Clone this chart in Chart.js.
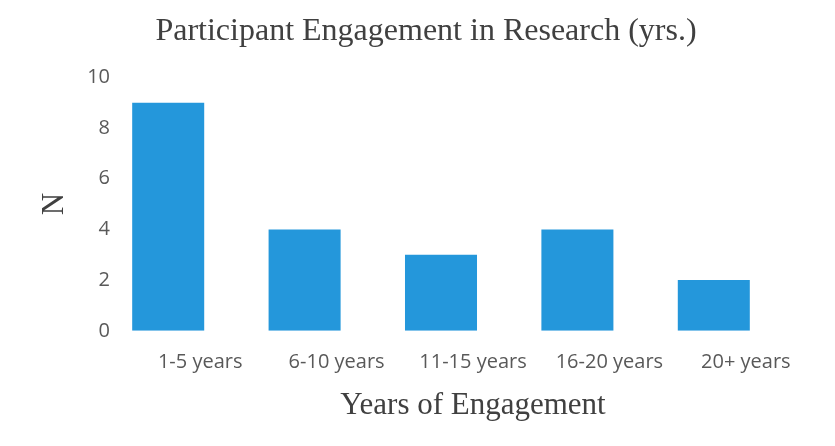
<!DOCTYPE html>
<html>
<head>
<meta charset="utf-8">
<title>Participant Engagement in Research</title>
<script src="https://cdn.jsdelivr.net/npm/chart.js"></script>
<style>
  html, body { margin: 0; padding: 0; background: #ffffff; }
  canvas { display: block; }
</style>
</head>
<body>
<canvas id="engagementChart" width="835" height="446"></canvas>
<script>
const categories = ['1-5 years', '6-10 years', '11-15 years', '16-20 years', '20+ years'];
const participants = [9, 4, 3, 4, 2];
const yTicks = [0, 2, 4, 6, 8, 10];

const serif = "'Liberation Serif', 'Times New Roman', serif";
const sans = "'Open Sans', sans-serif";

// small position tweaks applied once the layout is done:
// tick numbers sit a little into the plot, category labels and the
// x title sit right of the bars
const nudge = {
  id: 'nudge',
  afterLayout(chart) {
    chart.scales.y.right += 10;
    chart.scales.x.left += 32;
    chart.scales.x.right += 32;
  }
};

new Chart(document.getElementById('engagementChart'), {
  type: 'bar',
  data: {
    labels: categories,
    datasets: [{
      data: participants,
      backgroundColor: '#2497db',
      borderWidth: 0,
      barPercentage: 0.88,
      categoryPercentage: 0.6
    }]
  },
  options: {
    responsive: false,
    animation: false,
    layout: { padding: { left: 70, right: 53, top: 0, bottom: 22 } },
    plugins: {
      legend: { display: false },
      tooltip: { enabled: false },
      title: {
        display: true,
        text: 'Participant Engagement in Research (yrs.)',
        color: '#404040',
        font: { family: serif, size: 32, weight: 'normal' },
        padding: { top: 12, bottom: 27 }
      }
    },
    scales: {
      x: {
        grid: { display: false, drawTicks: false },
        border: { display: false },
        ticks: {
          color: '#595959',
          font: { family: sans, size: 20 },
          padding: 19,
          labelOffset: 32,
          maxRotation: 0,
          autoSkip: false
        },
        title: {
          display: true,
          text: 'Years of Engagement',
          color: '#404040',
          font: { family: serif, size: 31 },
          padding: { top: -6, bottom: 0 }
        }
      },
      y: {
        min: 0,
        max: 10,
        afterBuildTicks(scale) {
          scale.ticks = yTicks.map(v => ({ value: v }));
        },
        afterFit(scale) {
          scale.width = 30;
        },
        grid: { display: false, drawTicks: false },
        border: { display: false },
        ticks: {
          color: '#595959',
          font: { family: sans, size: 20 },
          padding: 0
        },
        title: {
          display: true,
          text: 'N',
          color: '#404040',
          font: { family: serif, size: 31 },
          padding: { top: -34, bottom: 0 }
        }
      }
    }
  },
  plugins: [nudge]
});
</script>
</body>
</html>
